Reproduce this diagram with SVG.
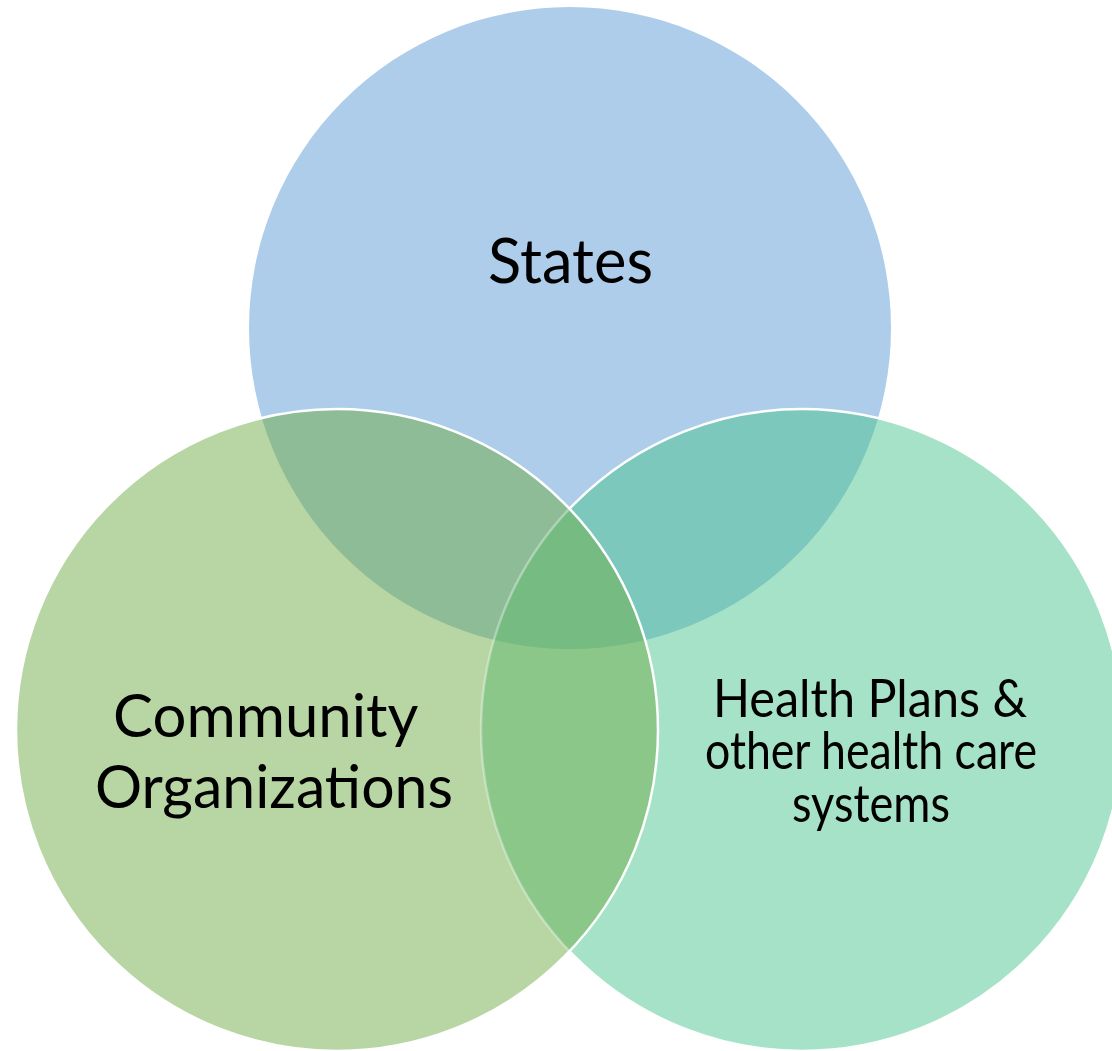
<svg xmlns="http://www.w3.org/2000/svg" width="1112" height="1051" viewBox="0 0 1112 1051">
  <style>
    .lbl { font-family: Lato, "Open Sans", "Noto Sans", sans-serif; fill: #000; }
    .edge { fill: none; stroke: #fff; stroke-width: 2.5; }
  </style>
  <defs>
    <clipPath id="cpLeft"><circle cx="337" cy="730" r="321"/></clipPath>
    <clipPath id="cpRight"><circle cx="802" cy="730" r="321"/></clipPath>
    <mask id="mOutLeft" maskUnits="userSpaceOnUse" x="0" y="0" width="1112" height="1051">
      <rect x="0" y="0" width="1112" height="1051" fill="#fff"/>
      <circle cx="337" cy="730" r="321" fill="#000"/>
    </mask>
  </defs>
  <rect x="0" y="0" width="1112" height="1051" fill="#fff"/>

  <g id="states">
    <circle cx="570" cy="328" r="321" fill="#AECDEA"/>
  </g>
  <g id="community">
    <circle cx="337" cy="730" r="321" fill="#B8D5A4"/>
  </g>
  <g id="health">
    <circle cx="802" cy="730" r="321" fill="#A6E2C8"/>
  </g>

  <g id="overlaps">
    <circle cx="570" cy="328" r="321" fill="#8EBC96" clip-path="url(#cpLeft)"/>
    <circle cx="570" cy="328" r="321" fill="#7CC8BC" clip-path="url(#cpRight)"/>
    <circle cx="337" cy="730" r="321" fill="#8BC788" clip-path="url(#cpRight)"/>
    <g clip-path="url(#cpRight)">
      <circle cx="570" cy="328" r="321" fill="#76BB81" clip-path="url(#cpLeft)"/>
    </g>
  </g>

  <g id="connectors">
    <circle class="edge" cx="802" cy="730" r="321" mask="url(#mOutLeft)"/>
    <circle class="edge" cx="802" cy="730" r="321" stroke-opacity="0.35" clip-path="url(#cpLeft)"/>
    <circle class="edge" cx="337" cy="730" r="321"/>
  </g>

  <g id="labels">
    <text class="lbl" x="488" y="283" font-size="61" textLength="165" lengthAdjust="spacingAndGlyphs">States</text>
    <text class="lbl" font-size="60">
      <tspan x="113" y="737" textLength="304" lengthAdjust="spacingAndGlyphs">Community</tspan>
      <tspan x="95" y="808" textLength="358" lengthAdjust="spacingAndGlyphs">Organizations</tspan>
    </text>
    <text class="lbl" font-size="52">
      <tspan x="713" y="717" textLength="314" lengthAdjust="spacingAndGlyphs">Health Plans &amp;</tspan>
      <tspan x="705" y="769" textLength="332" lengthAdjust="spacingAndGlyphs">other health care</tspan>
      <tspan x="792" y="822" textLength="158" lengthAdjust="spacingAndGlyphs">systems</tspan>
    </text>
  </g>
</svg>
